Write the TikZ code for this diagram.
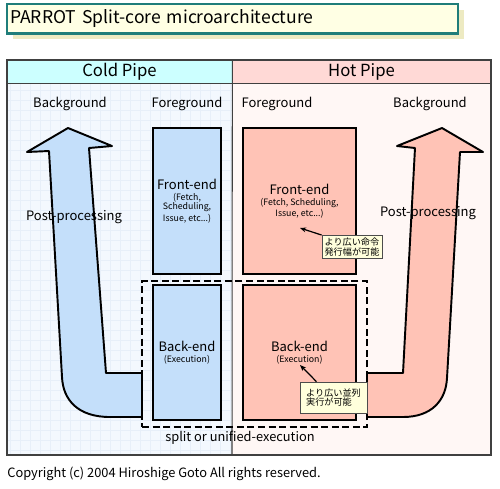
\documentclass[tikz,border=0pt]{standalone}
\usepackage{fontspec}
\setmainfont{Noto Sans CJK JP}
\usetikzlibrary{arrows.meta,shadows}

\definecolor{titlefill}{HTML}{FFFFE4}
\definecolor{titleline}{HTML}{1F7D7A}
\definecolor{titleshade}{HTML}{EDEAC2}
\definecolor{coldhead}{HTML}{CCFFFF}
\definecolor{hothead}{HTML}{FFD9D6}
\definecolor{coldback}{HTML}{F3F8FE}
\definecolor{hotback}{HTML}{FFF7F5}
\definecolor{coldgrid}{HTML}{E7EFF9}
\definecolor{coldfill}{HTML}{C4DFFA}
\definecolor{hotfill}{HTML}{FFC3B6}
\definecolor{notefill}{HTML}{FFFFDC}

\newcommand\titlefont{\fontsize{10}{12}\selectfont}
\newcommand\headfont{\fontsize{9.5}{11}\selectfont}
\newcommand\labfont{\fontsize{7.4}{8.5}\selectfont}
\newcommand\minifont{\fontsize{5}{5.3}\selectfont}
\newcommand\notefont{\fontsize{5.2}{5.4}\selectfont}
\newcommand\footfont{\fontsize{7.3}{8.5}\selectfont}

\tikzset{
  titlebox/.style={draw=titleline, line width=1.3pt, fill=titlefill,
    text width=8.9cm, inner xsep=0.06cm, minimum height=0.58cm,
    align=left, font=\titlefont,
    drop shadow={shadow xshift=0.12cm, shadow yshift=-0.12cm, fill=titleshade, opacity=1}},
  headcell/.style={minimum height=0.46cm, inner sep=0pt, font=\headfont},
  frameline/.style={draw=black!75, line width=0.6pt},
  stagebox/.style={draw=black, line width=1.1pt, align=center, inner sep=0pt, font=\minifont},
  pipearrow/.style={draw=black, line width=1.1pt, line join=round},
  unifybox/.style={draw=black, line width=1.3pt, dash pattern=on 4pt off 2pt, inner sep=0pt},
  notebox/.style={draw=black!70, line width=0.4pt, fill=notefill, align=left,
    inner sep=1.5pt, font=\notefont},
  notearrow/.style={draw=black, line width=0.7pt, -{Stealth[length=3.5pt,width=2.8pt]}},
  lab/.style={font=\labfont, inner sep=0pt}
}

\begin{document}
\begin{tikzpicture}[x=0.02cm,y=-0.02cm]
  \useasboundingbox (0,0) rectangle (500,488);
  % Title
  \node[titlebox] (title) at (232.5,18.5) {PARROT Split-core microarchitecture};

  % Panels
  \fill[coldback] (7,83) rectangle (232,455);
  \draw[coldgrid, step=0.2cm, line width=0.3pt] (7,83) grid (232,455);
  \fill[hotback] (232,83) rectangle (491,455);
  \node[headcell, fill=coldhead, minimum width=4.5cm] (coldpipe) at (119.5,71.5) {Cold Pipe};
  \node[headcell, fill=hothead, minimum width=5.18cm] (hotpipe) at (361.5,71.5) {Hot Pipe};
  \draw[frameline] (7,60) rectangle (491,455);
  \draw[frameline] (coldpipe.south west) -- (hotpipe.south east);
  \draw[frameline] (coldpipe.north east) -- (232,455);

  % Column labels
  \node[lab] (coldbg) at (70,104) {Background};
  \node[lab] (coldfg) at (187,104) {Foreground};
  \node[lab] (hotfg) at (277,104) {Foreground};
  \node[lab] (hotbg) at (430,104) {Background};

  % Post-processing arrows
  \filldraw[pipearrow, fill=coldfill] (68,128) -- (112,146) -- (89,148) -- (106,373)
    -- (142,373) -- (142,417) -- (110,417) .. controls (78,417) and (63,400) .. (62,377)
    -- (49,151) -- (27,152) -- cycle;
  \filldraw[pipearrow, fill=hotfill] (442,128) -- (397,146) -- (415,148) -- (403,373)
    -- (367,373) -- (367,417) -- (403,417) .. controls (432,417) and (446,400) .. (447,378)
    -- (460,152) -- (483,152) -- cycle;
  \node[lab] (coldpost) at (74,217) {Post-processing};
  \node[lab] (hotpost) at (428,213) {Post-processing};

  % Stages
  \node[stagebox, fill=coldfill, minimum width=1.36cm, minimum height=2.92cm] (coldfe) at (187,201)
    {{\labfont Front-end}\\[1pt](Fetch,\\Scheduling,\\Issue, etc...)};
  \node[stagebox, fill=coldfill, minimum width=1.36cm, minimum height=2.7cm] (coldbe) at (187,352.5)
    {{\labfont Back-end}\\[1pt](Execution)};
  \node[stagebox, fill=hotfill, minimum width=2.26cm, minimum height=2.92cm] (hotfe) at (299.5,201)
    {{\labfont Front-end}\\[1pt](Fetch, Scheduling,\\Issue, etc...)};
  \node[stagebox, fill=hotfill, minimum width=2.26cm, minimum height=2.7cm] (hotbe) at (299.5,352.5)
    {{\labfont Back-end}\\[1pt](Execution)};

  % Split or unified execution
  \node[unifybox, minimum width=4.5cm, minimum height=2.92cm] (unified) at (254.5,354) {};
  \node[lab, font=\footfont] (unifylab) at (240,438) {split or unified-execution};

  % Notes
  \coordinate (widetip) at (300,228);
  \coordinate (exectip) at (300,365);
  \node[notebox, minimum width=1.2cm, minimum height=0.46cm] (widenote) at (352,247)
    {より広い命令\\発行幅が可能};
  \node[notebox, minimum width=1.34cm, minimum height=0.62cm] (execnote) at (333.5,397.5)
    {より広い並列\\実行が可能};
  \draw[notearrow] (widenote.north west) -- (widetip);
  \draw[notearrow] (execnote.137) -- (exectip);

  % Copyright
  \node[lab, font=\footfont, anchor=west] (copyright) at (7,474)
    {Copyright (c) 2004 Hiroshige Goto All rights reserved.};
\end{tikzpicture}
\end{document}
